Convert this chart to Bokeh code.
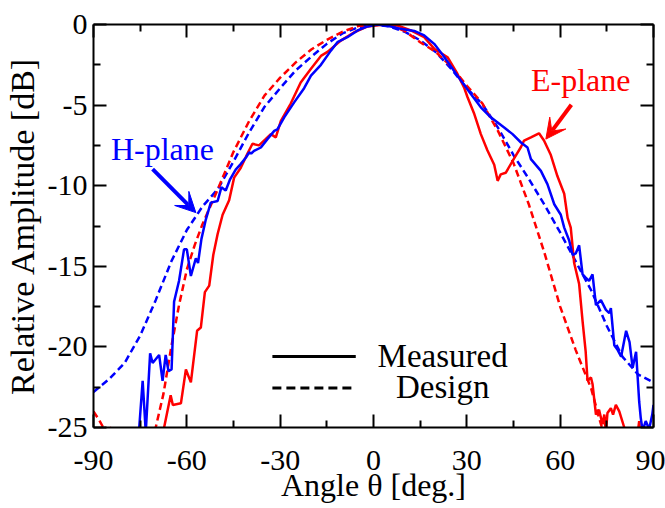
from bokeh.plotting import figure
from bokeh.models import Range1d, LinearAxis, FixedTicker, Label, Arrow, VeeHead
from bokeh.embed import file_html
from bokeh.resources import INLINE

# ---------------- data ----------------
# H-plane design (blue dashed)
h_design_ang = [-90, -85, -80, -75, -70, -65, -60, -55, -50, -45, -40, -35, -30, -25, -20,
                -15, -10, -5, 0, 5, 10, 15, 20, 25, 30, 35, 40, 45, 50, 55, 60, 65, 70,
                75, 80, 85, 90]
h_design_db = [-22.8, -22.0, -21.0, -19.3, -17.1, -14.7, -12.75, -11.3, -10.2, -8.5, -6.7,
               -5.1, -3.95, -2.85, -2.0, -1.2, -0.55, -0.18, 0.0, -0.12, -0.45, -0.98,
               -1.7, -2.75, -3.95, -4.95, -6.4, -8.1, -9.6, -11.2, -12.9, -14.7, -16.5,
               -18.7, -20.6, -21.7, -22.2]

# E-plane design (red dashed)
e_design_ang = [-90, -88, -86, -85, -83, -78, -72, -70, -67.5, -65, -62.5, -60, -57.5, -55,
                -50, -45, -40, -35, -30, -25, -20, -15, -10, -5, 0, 5, 10, 15, 20, 25, 30,
                35, 40, 45, 50, 55, 60, 65, 70, 72.5, 75, 80, 90]
e_design_db = [-24.0, -24.6, -25.3, -24.9, -25.5, -30.0, -27.0, -25.0, -22.9, -20.0, -17.4,
               -15.2, -13.7, -12.4, -10.2, -7.9, -6.0, -4.4, -3.3, -2.35, -1.55, -0.95,
               -0.45, -0.1, 0.0, 0.0, -0.4, -1.1, -1.7, -2.6, -3.8, -4.9, -6.6, -8.6,
               -11.2, -14.2, -17.5, -20.2, -22.6, -24.4, -26.0, -28.0, -30.0]

# E-plane measured (red solid)
e_meas_ang = [-68, -67.3, -65.2, -64.5, -61.9, -60.3, -58.7, -56.7, -55.5, -54.2, -52.8,
              -51.5, -50.1, -48.5, -46.4, -44.8, -42.7, -40.5, -38.9, -36.8, -34.6, -33.0,
              -31.4, -29.8, -26.6, -23.4, -20.1, -16.9, -14.8, -10.5, -6.2, -1.9, 3.4, 7.7,
              12.0, 16.3, 19.5, 23.8, 27.0, 29.1, 30.2, 32.3, 34.5, 36.6, 38.8, 39.9, 40.9,
              42.5, 45.2, 47.4, 48.4, 50.6, 53.2, 54.8, 57.0, 59.1, 61.3, 62.4, 63.4, 64.5,
              66.1, 67.2, 68.2, 68.8, 69.9, 70.4, 71.5, 72.5, 73.6, 74.2, 74.7, 75.2, 76.3,
              77.0, 77.9, 79.0, 80.6, 81.5, 84.5, 85.4, 86.0, 90]
e_meas_db = [-26.0, -25.0, -23.0, -23.6, -23.5, -21.4, -22.2, -19.0, -18.8, -16.6, -16.2,
             -14.3, -13.0, -11.8, -10.9, -9.5, -8.9, -8.0, -7.4, -7.5, -7.1, -6.8, -7.0,
             -6.0, -4.9, -3.6, -2.75, -1.95, -1.7, -1.0, -0.48, -0.12, 0.0, -0.06, -0.37,
             -0.79, -1.5, -2.03, -3.07, -3.9, -4.5, -5.5, -6.8, -7.8, -8.7, -9.7, -9.3,
             -9.2, -8.3, -7.6, -7.2, -7.0, -6.75, -7.2, -8.1, -9.4, -10.5, -12.0, -12.6,
             -14.8, -16.1, -18.4, -20.3, -22.1, -21.9, -22.3, -24.2, -23.9, -24.8, -24.2,
             -25.3, -24.1, -23.8, -24.2, -23.6, -24.0, -25.0, -26.0, -26.0, -24.6, -26.0,
             -27.0]

# H-plane measured (blue solid)
h_meas_ang = [-76, -75.3, -74.2, -73.2, -71.8, -71.0, -68.9, -67.8, -66.8, -65.9, -64.9,
              -64.1, -62.5, -60.9, -60.0, -58.7, -57.1, -56.4, -55.3, -53.9, -52.3, -50.1,
              -48.9, -47.5, -46.1, -44.3, -42.7, -41.0, -40.0, -39.3, -38.4, -36.2, -34.1,
              -31.9, -30.9, -28.7, -25.5, -22.3, -20.1, -16.9, -13.7, -11.6, -8.4, -5.1,
              -1.9, 1.3, 5.6, 8.8, 13.1, 16.3, 19.5, 22.7, 24.9, 28.1, 31.3, 34.5, 37.7,
              39.9, 42.0, 44.7, 47.4, 49.5, 50.6, 53.8, 55.9, 58.1, 60.2, 61.3, 62.9, 64.0,
              65.0, 66.1, 67.2, 68.2, 69.3, 70.4, 71.5, 73.1, 74.7, 75.8, 76.3, 77.4, 78.5,
              79.6, 81.2, 82.3, 83.3, 84.4, 85.4, 85.9, 86.5, 87.5, 88.6, 89.6, 90]
h_meas_db = [-26.0, -25.0, -22.1, -25.3, -20.4, -21.0, -20.5, -22.1, -20.5, -21.5, -21.4,
             -17.2, -15.9, -13.95, -13.95, -15.6, -14.5, -14.8, -13.3, -12.1, -11.05,
             -10.95, -10.1, -10.3, -9.6, -9.0, -8.66, -8.25, -7.94, -8.0, -7.84, -7.63,
             -7.11, -6.6, -6.5, -5.76, -4.83, -3.95, -3.17, -2.5, -1.62, -1.1, -0.79,
             -0.37, -0.12, 0.0, -0.12, -0.27, -0.4, -0.68, -1.2, -2.0, -2.6, -3.48, -4.31,
             -5.14, -5.76, -6.08, -6.39, -6.8, -7.32, -7.63, -8.35, -9.08, -9.9, -11.15,
             -11.8, -12.6, -13.4, -14.3, -14.2, -13.7, -15.5, -15.7, -15.9, -15.5, -17.4,
             -17.1, -17.7, -17.9, -17.6, -19.9, -20.2, -20.6, -19.0, -19.7, -21.3, -20.3,
             -23.4, -24.4, -25.2, -24.6, -25.1, -24.2, -23.6]

x_ticks = [-90, -60, -30, 0, 30, 60, 90]
x_minor = [-75, -45, -15, 15, 45, 75]
y_ticks = [-25, -20, -15, -10, -5, 0]
y_minor = [-22.5, -17.5, -12.5, -7.5, -2.5]

x_title = "Angle θ [deg.]"
y_title = "Relative Amplitude [dB]"

BLUE = "#0000ff"
RED = "#ff0000"
FONT = "Liberation Serif"

p = figure(width=665, height=508, output_backend="svg", toolbar_location=None,
           x_range=Range1d(-90, 90), y_range=Range1d(-25, 0),
           min_border_left=93, min_border_right=12, min_border_top=24,
           min_border_bottom=81)
p.xgrid.visible = False
p.ygrid.visible = False
p.outline_line_color = None
p.background_fill_color = "white"
p.border_fill_color = "white"


def style_axis(ax, labels=True):
    ax.axis_line_width = 2
    ax.axis_line_color = "black"
    ax.major_tick_in = 13
    ax.major_tick_out = 0
    ax.minor_tick_in = 7
    ax.minor_tick_out = 0
    ax.major_tick_line_width = 2
    ax.minor_tick_line_width = 2
    ax.major_tick_line_color = "black"
    ax.minor_tick_line_color = "black"
    ax.major_label_text_font = FONT
    if labels:
        ax.major_label_text_color = "black"
        ax.major_label_text_font_size = "30px"
    else:
        ax.major_label_text_color = None
        ax.major_label_text_font_size = "1px"
        ax.major_label_standoff = 0


xt = FixedTicker(ticks=x_ticks, minor_ticks=x_minor)
yt = FixedTicker(ticks=y_ticks, minor_ticks=y_minor)

xa = p.xaxis[0]
ya = p.yaxis[0]
xa.ticker = xt
ya.ticker = yt
style_axis(xa)
style_axis(ya)
xa.major_label_overrides = {t: str(t) for t in x_ticks}
ya.major_label_overrides = {t: str(t) for t in y_ticks}
xa.major_label_standoff = 23
ya.major_label_standoff = 6

xa.axis_label = x_title
xa.axis_label_text_font = FONT
xa.axis_label_text_font_size = "32px"
xa.axis_label_text_font_style = "normal"
xa.axis_label_text_color = "black"
xa.axis_label_standoff = -6

ya.axis_label = y_title
ya.axis_label_text_font = FONT
ya.axis_label_text_font_size = "34px"
ya.axis_label_text_font_style = "normal"
ya.axis_label_text_color = "black"
ya.axis_label_standoff = 4

top = LinearAxis(ticker=FixedTicker(ticks=x_ticks, minor_ticks=x_minor))
style_axis(top, labels=False)
p.add_layout(top, "above")
right = LinearAxis(ticker=FixedTicker(ticks=y_ticks, minor_ticks=y_minor))
style_axis(right, labels=False)
p.add_layout(right, "right")

# curves
p.line(h_design_ang, h_design_db, line_color=BLUE, line_width=2.5, line_dash="7 4")
p.line(e_design_ang, e_design_db, line_color=RED, line_width=2.5, line_dash="7 4")
p.line(e_meas_ang, e_meas_db, line_color=RED, line_width=2.5)
p.line(h_meas_ang, h_meas_db, line_color=BLUE, line_width=2.5)

# legend (manual, as in the reference)
p.line([-32.5, -5.7], [-20.6, -20.6], line_color="black", line_width=3)
p.line([-32.5, -5.7], [-22.55, -22.55], line_color="black", line_width=3, line_dash="9 5")
p.add_layout(Label(x=1.3, y=-20.55, text="Measured", text_font=FONT, text_font_size="33px",
                   text_color="black", text_baseline="alphabetic", text_align="left"))
p.add_layout(Label(x=7.2, y=-22.5, text="Design", text_font=FONT, text_font_size="33px",
                   text_color="black", text_baseline="alphabetic", text_align="left"))

# annotations
p.add_layout(Label(x=-84.4, y=-7.75, text="H-plane", text_font=FONT, text_font_size="32px",
                   text_color=BLUE, text_baseline="alphabetic", text_align="left"))
p.add_layout(Label(x=50.6, y=-3.46, text="E-plane", text_font=FONT, text_font_size="32px",
                   text_color=RED, text_baseline="alphabetic", text_align="left"))
p.add_layout(Arrow(x_start=-71.0, y_start=-8.97, x_end=-57.1, y_end=-11.67,
                   line_color=BLUE, line_width=4,
                   end=VeeHead(size=20, fill_color=BLUE, line_color=BLUE, line_width=1)))
p.add_layout(Arrow(x_start=63.6, y_start=-4.98, x_end=55.4, y_end=-7.11,
                   line_color=RED, line_width=4,
                   end=VeeHead(size=20, fill_color=RED, line_color=RED, line_width=1)))

open("out.html", "w").write(file_html(p, INLINE))
